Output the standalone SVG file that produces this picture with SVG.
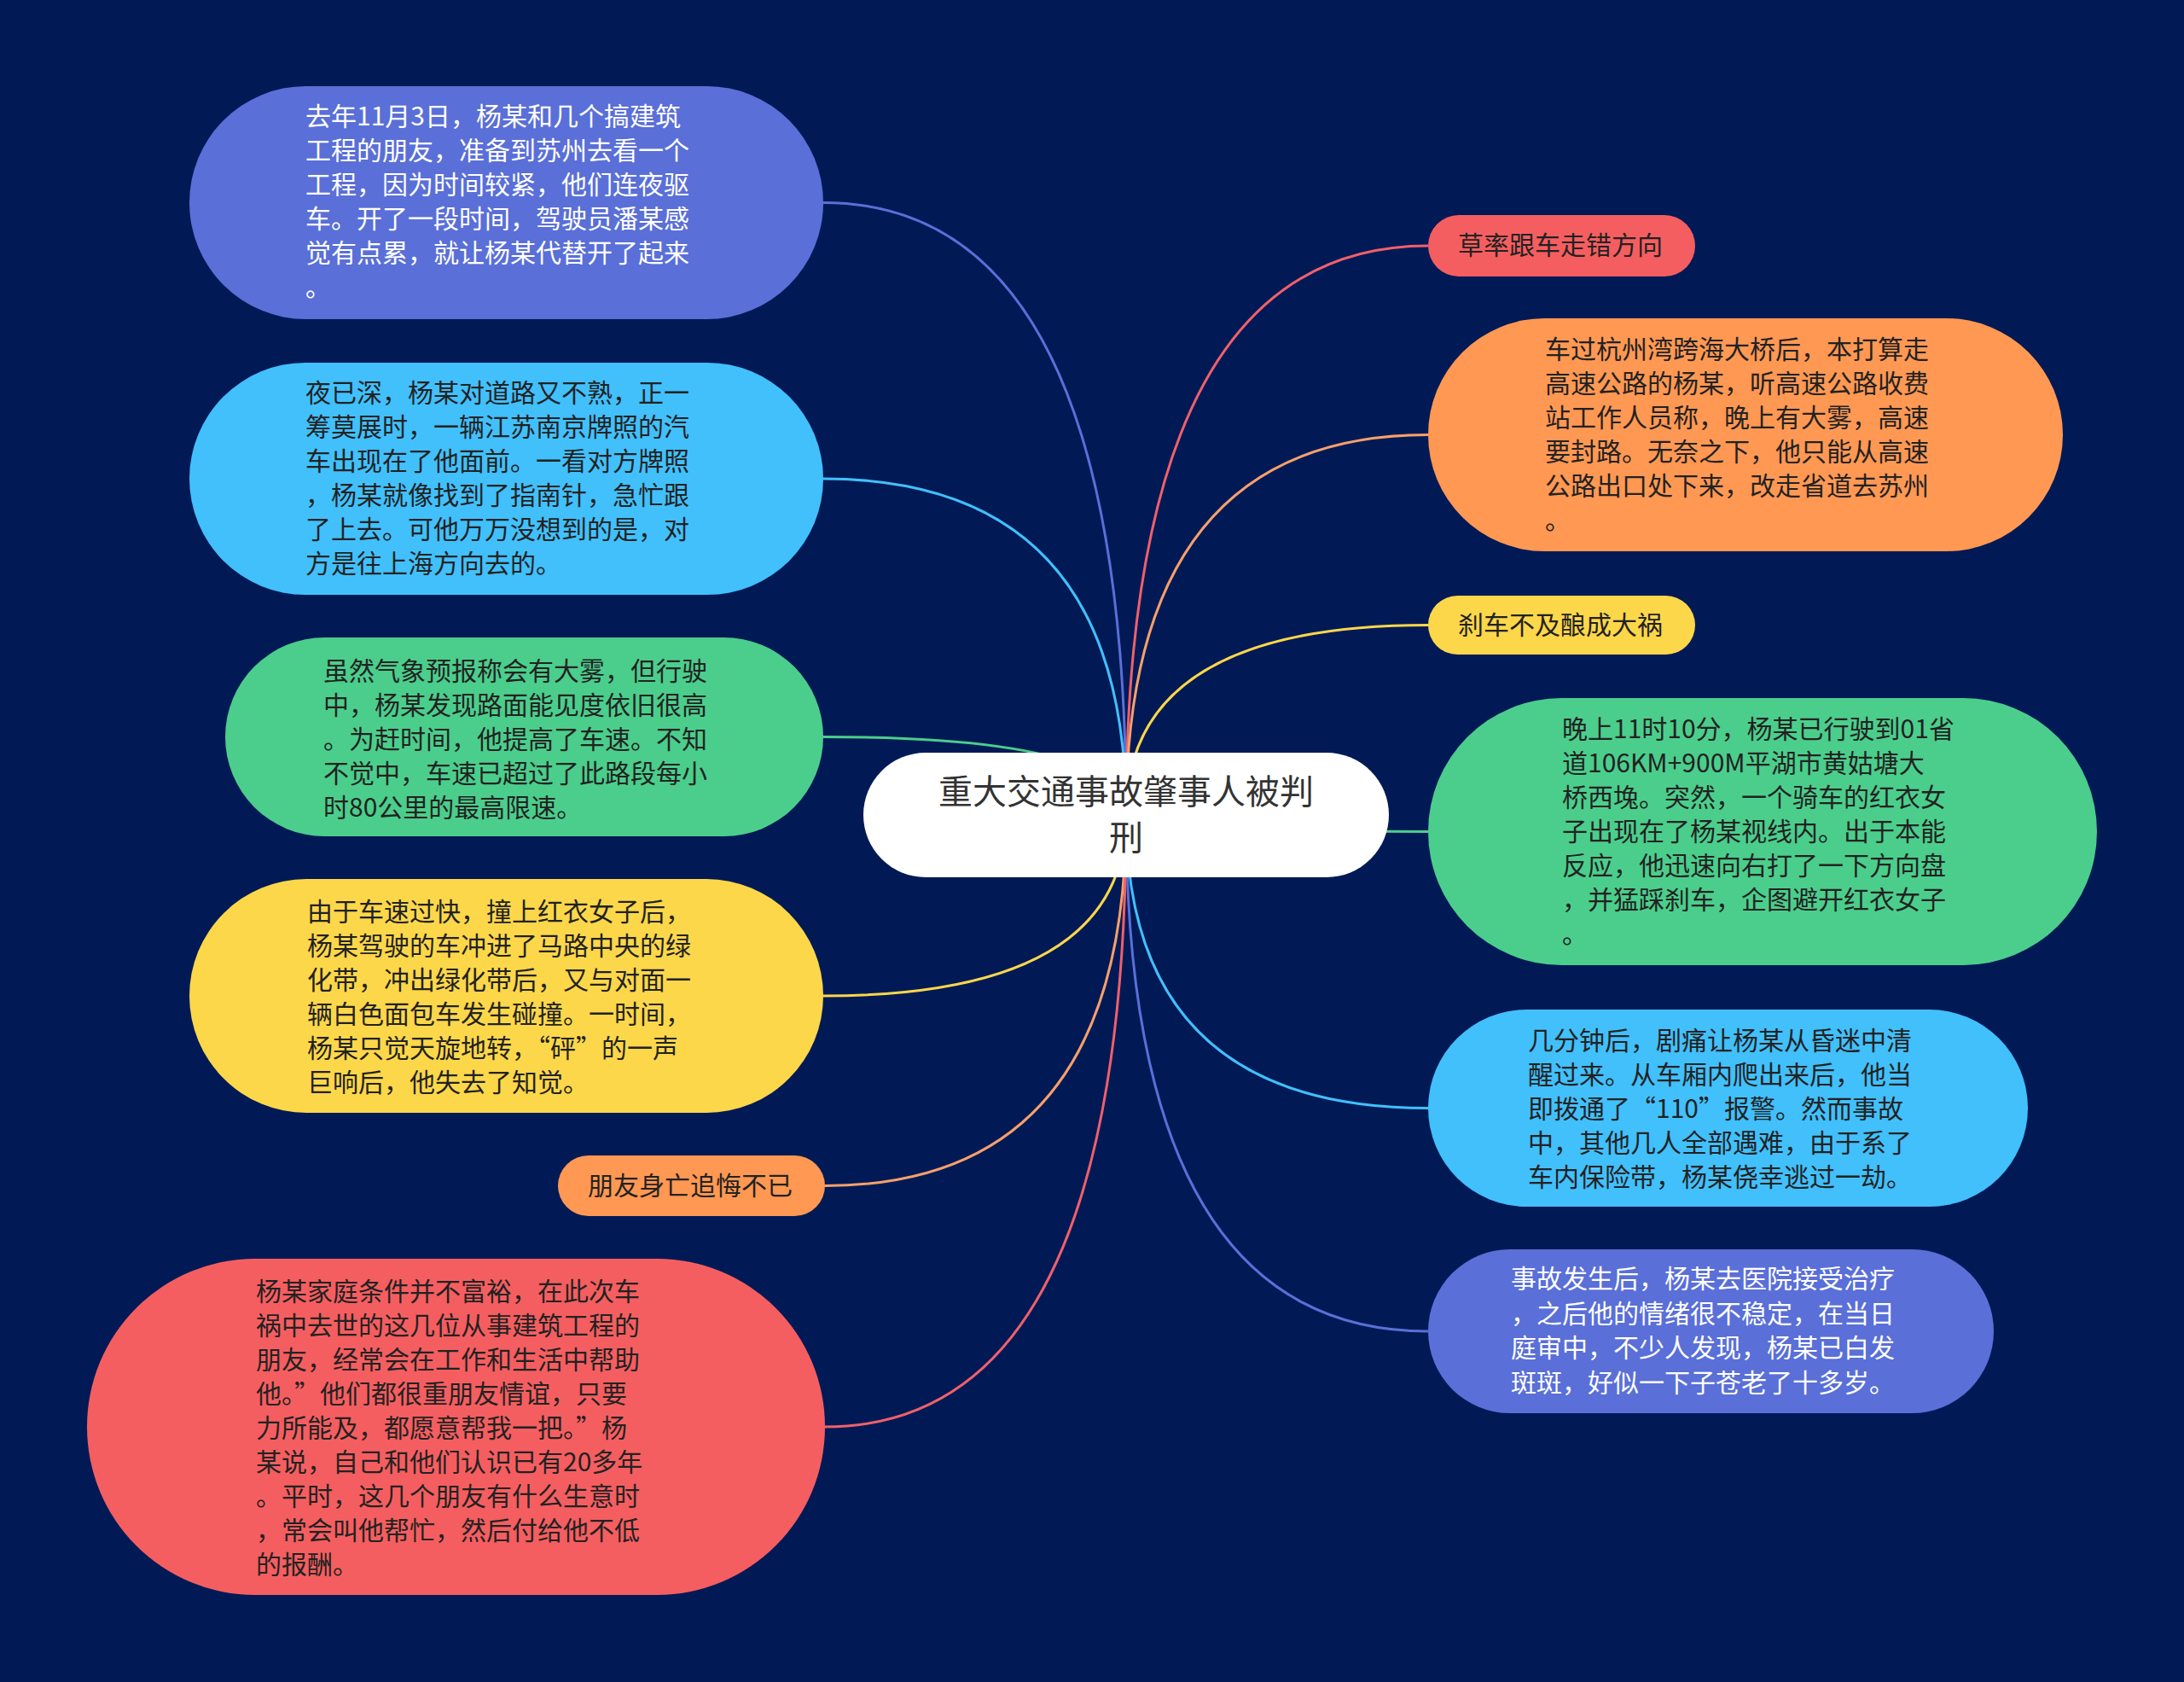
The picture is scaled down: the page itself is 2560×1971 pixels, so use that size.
<svg xmlns="http://www.w3.org/2000/svg" width="2560" height="1971" viewBox="0 0 2560 1971">
<style>
.t{font-family:"Noto Sans CJK SC","Noto Sans",sans-serif;font-size:30px;dominant-baseline:central;fill:#222222}
.w{fill:#ffffff}
.c{font-family:"Noto Sans CJK SC","Noto Sans",sans-serif;font-size:40px;dominant-baseline:central;fill:#333333;text-anchor:middle}
.e{fill:none;stroke-width:3}
.pu{fill:#5a6fd7}.lb{fill:#41c0fc}.gr{fill:#4bce8c}.ye{fill:#fdd74a}.or{fill:#ff9853}.rd{fill:#f55e60}
</style>
<rect x="0" y="0" width="2560" height="1971" fill="#011a56"/>
<g id="connectors">
<path class="e" stroke="#5a6fd7" d="M965,237.5 Q1320,237.5 1320,955"/>
<path class="e" stroke="#41c0fc" d="M965,561 Q1320,561 1320,955"/>
<path class="e" stroke="#4bce8c" d="M965,863.5 Q1320,863.5 1320,955"/>
<path class="e" stroke="#fdd74a" d="M965,1167 Q1320,1167 1320,955"/>
<path class="e" stroke="#f7a06a" d="M967,1389.5 Q1320,1389.5 1320,955"/>
<path class="e" stroke="#f0606a" d="M967,1672 Q1320,1672 1320,955"/>
<path class="e" stroke="#f0606a" d="M1674,288 Q1320,288 1320,955"/>
<path class="e" stroke="#f7a06a" d="M1674,509.5 Q1320,509.5 1320,955"/>
<path class="e" stroke="#fdd74a" d="M1674,732.5 Q1320,732.5 1320,955"/>
<path class="e" stroke="#4bce8c" d="M1674,974.5 Q1320,974.5 1320,955"/>
<path class="e" stroke="#41c0fc" d="M1674,1298.5 Q1320,1298.5 1320,955"/>
<path class="e" stroke="#5a6fd7" d="M1674,1560 Q1320,1560 1320,955"/>
</g>
<g id="n-l1">
<rect class="pu" x="222" y="101" width="743" height="273" rx="136.5"/>
<text class="t w"><tspan x="358" y="134">去年11月3日，杨某和几个搞建筑</tspan><tspan x="358" y="174">工程的朋友，准备到苏州去看一个</tspan><tspan x="358" y="214">工程，因为时间较紧，他们连夜驱</tspan><tspan x="358" y="254">车。开了一段时间，驾驶员潘某感</tspan><tspan x="358" y="294">觉有点累，就让杨某代替开了起来</tspan><tspan x="358" y="334">。</tspan></text>
</g>
<g id="n-l2">
<rect class="lb" x="222" y="425" width="743" height="272" rx="136"/>
<text class="t"><tspan x="358" y="458">夜已深，杨某对道路又不熟，正一</tspan><tspan x="358" y="498">筹莫展时，一辆江苏南京牌照的汽</tspan><tspan x="358" y="538">车出现在了他面前。一看对方牌照</tspan><tspan x="358" y="578">，杨某就像找到了指南针，急忙跟</tspan><tspan x="358" y="618">了上去。可他万万没想到的是，对</tspan><tspan x="358" y="658">方是往上海方向去的。</tspan></text>
</g>
<g id="n-l3">
<rect class="gr" x="264" y="747" width="701" height="233" rx="116.5"/>
<text class="t"><tspan x="379" y="784">虽然气象预报称会有大雾，但行驶</tspan><tspan x="379" y="824">中，杨某发现路面能见度依旧很高</tspan><tspan x="379" y="864">。为赶时间，他提高了车速。不知</tspan><tspan x="379" y="904">不觉中，车速已超过了此路段每小</tspan><tspan x="379" y="944">时80公里的最高限速。</tspan></text>
</g>
<g id="n-l4">
<rect class="ye" x="222" y="1030" width="743" height="274" rx="137"/>
<text class="t"><tspan x="360" y="1066">由于车速过快，撞上红衣女子后，</tspan><tspan x="360" y="1106">杨某驾驶的车冲进了马路中央的绿</tspan><tspan x="360" y="1146">化带，冲出绿化带后，又与对面一</tspan><tspan x="360" y="1186">辆白色面包车发生碰撞。一时间，</tspan><tspan x="360" y="1226">杨某只觉天旋地转，“砰”的一声</tspan><tspan x="360" y="1266">巨响后，他失去了知觉。</tspan></text>
</g>
<g id="n-l5">
<rect class="or" x="654" y="1354" width="313" height="71" rx="35.5"/>
<text class="t" x="689" y="1387">朋友身亡追悔不已</text>
</g>
<g id="n-l6">
<rect class="rd" x="102" y="1475" width="865" height="394" rx="197"/>
<text class="t"><tspan x="300" y="1511">杨某家庭条件并不富裕，在此次车</tspan><tspan x="300" y="1551">祸中去世的这几位从事建筑工程的</tspan><tspan x="300" y="1591">朋友，经常会在工作和生活中帮助</tspan><tspan x="300" y="1631">他。”他们都很重朋友情谊，只要</tspan><tspan x="300" y="1671">力所能及，都愿意帮我一把。”杨</tspan><tspan x="300" y="1711">某说，自己和他们认识已有20多年</tspan><tspan x="300" y="1751">。平时，这几个朋友有什么生意时</tspan><tspan x="300" y="1791">，常会叫他帮忙，然后付给他不低</tspan><tspan x="300" y="1831">的报酬。</tspan></text>
</g>
<g id="n-r1">
<rect class="rd" x="1674" y="252" width="313" height="72" rx="36"/>
<text class="t" x="1709" y="285">草率跟车走错方向</text>
</g>
<g id="n-r2">
<rect class="or" x="1674" y="373" width="744" height="273" rx="136.5"/>
<text class="t"><tspan x="1811" y="407">车过杭州湾跨海大桥后，本打算走</tspan><tspan x="1811" y="447">高速公路的杨某，听高速公路收费</tspan><tspan x="1811" y="487">站工作人员称，晚上有大雾，高速</tspan><tspan x="1811" y="527">要封路。无奈之下，他只能从高速</tspan><tspan x="1811" y="567">公路出口处下来，改走省道去苏州</tspan><tspan x="1811" y="607">。</tspan></text>
</g>
<g id="n-r3">
<rect class="ye" x="1674" y="698" width="313" height="69" rx="34.5"/>
<text class="t" x="1709" y="730">刹车不及酿成大祸</text>
</g>
<g id="n-r4">
<rect class="gr" x="1674" y="818" width="784" height="313" rx="156.5"/>
<text class="t"><tspan x="1831" y="852">晚上11时10分，杨某已行驶到01省</tspan><tspan x="1831" y="892">道106KM+900M平湖市黄姑塘大</tspan><tspan x="1831" y="932">桥西堍。突然，一个骑车的红衣女</tspan><tspan x="1831" y="972">子出现在了杨某视线内。出于本能</tspan><tspan x="1831" y="1012">反应，他迅速向右打了一下方向盘</tspan><tspan x="1831" y="1052">，并猛踩刹车，企图避开红衣女子</tspan><tspan x="1831" y="1092">。</tspan></text>
</g>
<g id="n-r5">
<rect class="lb" x="1674" y="1183" width="703" height="231" rx="115.5"/>
<text class="t"><tspan x="1791" y="1217">几分钟后，剧痛让杨某从昏迷中清</tspan><tspan x="1791" y="1257">醒过来。从车厢内爬出来后，他当</tspan><tspan x="1791" y="1297">即拨通了“110”报警。然而事故</tspan><tspan x="1791" y="1337">中，其他几人全部遇难，由于系了</tspan><tspan x="1791" y="1377">车内保险带，杨某侥幸逃过一劫。</tspan></text>
</g>
<g id="n-r6">
<rect class="pu" x="1674" y="1464" width="663" height="192" rx="96"/>
<text class="t w"><tspan x="1771" y="1496">事故发生后，杨某去医院接受治疗</tspan><tspan x="1771" y="1537">，之后他的情绪很不稳定，在当日</tspan><tspan x="1771" y="1577">庭审中，不少人发现，杨某已白发</tspan><tspan x="1771" y="1618">斑斑，好似一下子苍老了十多岁。</tspan></text>
</g>
<g id="n-center">
<rect fill="#ffffff" x="1012" y="882" width="616" height="146" rx="73"/>
<text class="c"><tspan x="1320" y="925">重大交通事故肇事人被判</tspan><tspan x="1320" y="979">刑</tspan></text>
</g>
</svg>
